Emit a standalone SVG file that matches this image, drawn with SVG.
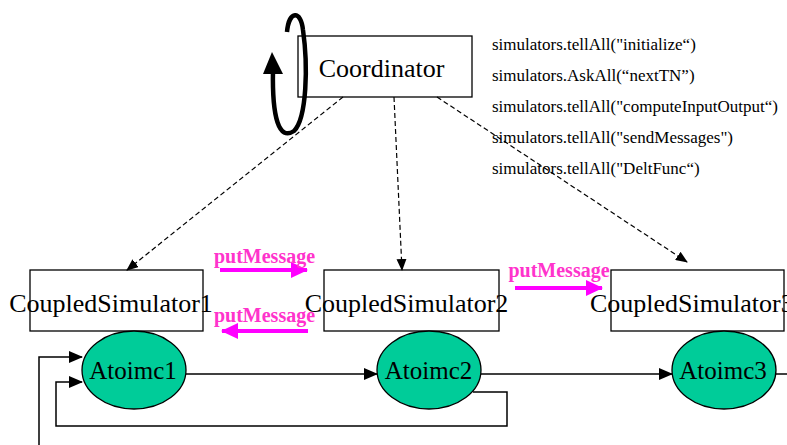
<svg xmlns="http://www.w3.org/2000/svg" width="787" height="445" viewBox="0 0 787 445">
<defs>
<style>
.box{fill:#fff;stroke:#000;stroke-width:1.3}
.ell{fill:#00CC99;stroke:#000;stroke-width:1.3}
.lbl{font-family:"Liberation Serif","Times New Roman",serif;font-size:26px;fill:#000;text-anchor:middle}
.elbl{font-family:"Liberation Serif","Times New Roman",serif;font-size:25px;fill:#000;text-anchor:middle}
.cmd{font-family:"Liberation Serif","Times New Roman",serif;font-size:17px;fill:#000}
.pm{font-family:"Liberation Serif","Times New Roman",serif;font-size:20px;font-weight:bold;fill:#FF33CC;text-anchor:middle}
.dash{fill:none;stroke:#000;stroke-width:1.2;stroke-dasharray:5,3}
.solid{fill:none;stroke:#000;stroke-width:1.5}
.mag{fill:none;stroke:#FF00FF;stroke-width:4}
</style>
<marker id="ah" markerWidth="12" markerHeight="10" refX="11" refY="5" orient="auto" markerUnits="userSpaceOnUse">
<path d="M0,0 L12,5 L0,10 Z" fill="#000"/>
</marker>
<marker id="sh" markerWidth="14" markerHeight="12" refX="13" refY="6" orient="auto" markerUnits="userSpaceOnUse">
<path d="M0,0 L14,6 L0,12 Z" fill="#000"/>
</marker>
<marker id="mh" markerWidth="17" markerHeight="16" refX="16" refY="8" orient="auto" markerUnits="userSpaceOnUse">
<path d="M0,0 L17,8 L0,16 Z" fill="#FF00FF"/>
</marker>
</defs>

<g id="coordinator">
<rect class="box" x="298" y="36" width="174" height="61"/>
<text class="lbl" x="381.5" y="77">Coordinator</text>
</g>

<g id="commands">
<text class="cmd" x="492" y="50">simulators.tellAll("initialize“)</text>
<text class="cmd" x="492" y="81">simulators.AskAll(“nextTN”)</text>
<text class="cmd" x="492" y="112">simulators.tellAll("computeInputOutput“)</text>
<text class="cmd" x="492" y="143">simulators.tellAll("sendMessages")</text>
<text class="cmd" x="492" y="174">simulators.tellAll("DeltFunc“)</text>
</g>

<g id="cs1">
<rect class="box" x="30" y="270" width="173" height="61"/>
<text class="lbl" x="111" y="312">CoupledSimulator1</text>
</g>
<g id="cs2">
<rect class="box" x="324" y="270" width="175" height="61"/>
<text class="lbl" x="406.5" y="312">CoupledSimulator2</text>
</g>
<g id="cs3">
<rect class="box" x="611" y="270" width="173" height="61"/>
<text class="lbl" x="590" y="312" style="text-anchor:start">CoupledSimulator3</text>
</g>

<g id="atoimc1">
<ellipse class="ell" cx="134" cy="370" rx="52" ry="39"/>
<text class="elbl" x="133" y="379">Atoimc1</text>
</g>
<g id="atoimc2">
<ellipse class="ell" cx="429" cy="370" rx="52" ry="39"/>
<text class="elbl" x="428.5" y="379">Atoimc2</text>
</g>
<g id="atoimc3">
<ellipse class="ell" cx="724" cy="370" rx="52" ry="39"/>
<text class="elbl" x="723" y="379">Atoimc3</text>
</g>

<g id="connectors">
<path d="M287,32 C289,10 301,10 303,30 C308,65 307,118 294,131 C279,141 272,118 273,70" fill="none" stroke="#000" stroke-width="4.5"/>
<path d="M272,52 L263,74 L283,74 Z" fill="#000"/>

<line class="dash" x1="343" y1="97" x2="127" y2="270" marker-end="url(#ah)"/>
<line class="dash" x1="394" y1="97" x2="402" y2="270" marker-end="url(#ah)"/>
<line class="dash" x1="437" y1="97" x2="687" y2="262" marker-end="url(#ah)"/>

<line class="mag" x1="220" y1="270" x2="307" y2="270" marker-end="url(#mh)"/>
<line class="mag" x1="308" y1="331" x2="222" y2="331" marker-end="url(#mh)"/>
<line class="mag" x1="515" y1="288" x2="602" y2="288" marker-end="url(#mh)"/>

<line class="solid" x1="186" y1="374" x2="377" y2="374" marker-end="url(#sh)"/>
<line class="solid" x1="481" y1="374" x2="672" y2="374" marker-end="url(#sh)"/>
<line class="solid" x1="776" y1="374" x2="787" y2="374"/>
<polyline class="solid" points="473,392 507,392 507,426 56,426 56,382 82,382" marker-end="url(#sh)"/>
<polyline class="solid" points="39,445 39,357 82,357" marker-end="url(#sh)"/>
</g>

<g id="labels">
<text class="pm" x="264.5" y="263">putMessage</text>
<text class="pm" x="264.5" y="322">putMessage</text>
<text class="pm" x="559" y="277">putMessage</text>
</g>
</svg>
